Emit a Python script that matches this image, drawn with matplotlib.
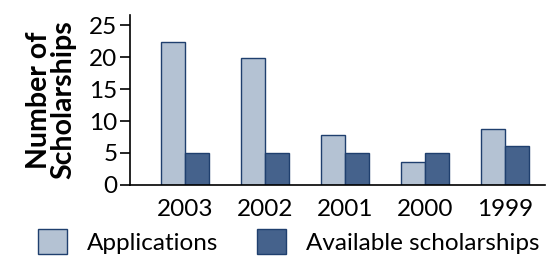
import numpy as np
import matplotlib.pyplot as plt
from matplotlib.patches import Patch

years = ['2003', '2002', '2001', '2000', '1999']
applications = [22.4, 19.9, 7.8, 3.6, 8.7]
available = [5, 5, 5, 5, 6.1]

light = '#b4c2d3'
dark = '#45628c'
edge = '#1f3f6e'

plt.rcParams['font.family'] = ['Lato', 'DejaVu Sans']

fig = plt.figure(figsize=(5.48, 2.63), dpi=100)
ax = fig.add_axes([0.237, 0.297, 0.758, 0.646])

x = np.arange(len(years))
w = 0.3
ax.bar(x - w/2, applications, w, color=light, edgecolor=edge, linewidth=1)
ax.bar(x + w/2, available, w, color=dark, edgecolor=edge, linewidth=1)

ax.set_xlim(-0.69, 4.5)
ax.set_ylim(0, 26.6)
ax.set_yticks([0, 5, 10, 15, 20, 25])
ax.set_xticks(x)
ax.set_xticklabels(years)
ax.tick_params(axis='x', length=0, labelsize=17.5, pad=10)
ax.tick_params(axis='y', length=7, width=1.2, labelsize=17.5, pad=2)
for s in ['left', 'bottom']:
    ax.spines[s].set_linewidth(1.2)
ax.spines['top'].set_visible(False)
ax.spines['right'].set_visible(False)
ax.set_ylabel('Number of\nScholarships', fontsize=20.5, fontweight='bold', labelpad=9, linespacing=0.95)

handles = [Patch(facecolor=light, edgecolor=edge, label='Applications'),
           Patch(facecolor=dark, edgecolor=edge, label='Available scholarships')]
fig.legend(handles=handles, loc='lower center', bbox_to_anchor=(0.527, -0.05), ncol=2,
           frameon=False, fontsize=17.5, handlelength=1.2, handleheight=1.2,
           handletextpad=0.8, columnspacing=1.6)

fig.savefig('out.png', dpi=100)
